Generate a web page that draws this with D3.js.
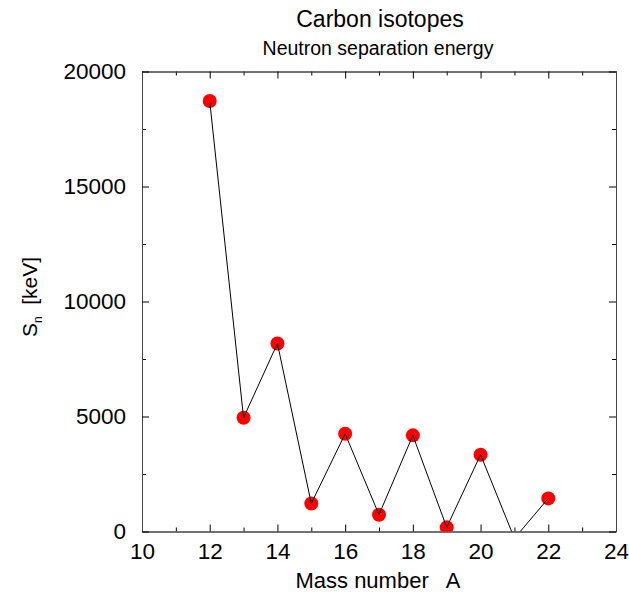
<html>
<head>
<meta charset="UTF-8">
<title>Carbon isotopes</title>
<script src="https://d3js.org/d3.v7.min.js"></script>
<style>
  body { margin: 0; background: #fff; }
  svg { display: block; font-family: "Liberation Sans", Arial, sans-serif; }
  .axis text { font-size: 22.5px; fill: #000; }
  .axis line { stroke: #000; }
  .axis path { stroke: #444; }
  .title { font-size: 23px; }
  .subtitle { font-size: 19.5px; }
  .label { font-size: 22px; }
</style>
</head>
<body>
<svg width="629" height="592"></svg>
<script>
// mass number A and neutron separation energy (keV)
var massNumbers = [12, 13, 14, 15, 16, 17, 18, 19, 20, 21, 22];
var snValues = [18720, 4946, 8176, 1218, 4250, 729, 4180, 180, 3340, -300, 1440];
var xTicks = [10, 12, 14, 16, 18, 20, 22, 24];
var yTicks = [0, 5000, 10000, 15000, 20000];

function draw() {
  var svg = d3.select("svg");
  var pLeft = 142, pRight = 616, pTop = 71.5, pBottom = 531.5;

  var x = d3.scaleLinear().domain([10, 24]).range([pLeft, pRight]);
  var y = d3.scaleLinear().domain([0, 20000]).range([pBottom, pTop]);

  var xMinor = d3.range(11, 24, 2);
  var yMinor = d3.range(2500, 20000, 5000);

  // minor ticks first
  svg.append("g").attr("class", "axis").attr("transform", "translate(0," + pBottom + ")")
    .call(d3.axisBottom(x).tickValues(xMinor).tickSize(-4).tickFormat("").tickSizeOuter(0));
  svg.append("g").attr("class", "axis").attr("transform", "translate(0," + pTop + ")")
    .call(d3.axisTop(x).tickValues(xMinor).tickSize(-4).tickFormat("").tickSizeOuter(0));
  svg.append("g").attr("class", "axis").attr("transform", "translate(" + pLeft + ",0)")
    .call(d3.axisLeft(y).tickValues(yMinor).tickSize(-4).tickFormat("").tickSizeOuter(0));
  svg.append("g").attr("class", "axis").attr("transform", "translate(" + pRight + ",0)")
    .call(d3.axisRight(y).tickValues(yMinor).tickSize(-4).tickFormat("").tickSizeOuter(0));

  // major ticks
  svg.append("g").attr("class", "axis").attr("transform", "translate(0," + pBottom + ")")
    .call(d3.axisBottom(x).tickValues(xTicks).tickSize(-7).tickPadding(12).tickSizeOuter(0));
  svg.append("g").attr("class", "axis").attr("transform", "translate(0," + pTop + ")")
    .call(d3.axisTop(x).tickValues(xTicks).tickSize(-7).tickFormat("").tickSizeOuter(0));
  svg.append("g").attr("class", "axis").attr("transform", "translate(" + pLeft + ",0)")
    .call(d3.axisLeft(y).tickValues(yTicks).tickSize(-7).tickPadding(16).tickFormat(d3.format("d")).tickSizeOuter(0));
  svg.append("g").attr("class", "axis").attr("transform", "translate(" + pRight + ",0)")
    .call(d3.axisRight(y).tickValues(yTicks).tickSize(-7).tickFormat("").tickSizeOuter(0));

  svg.selectAll(".axis").attr("font-family", null).attr("font-size", null);

  // clip to plot frame
  svg.append("clipPath").attr("id", "plot")
    .append("rect").attr("x", pLeft).attr("y", pTop)
    .attr("width", pRight - pLeft).attr("height", pBottom - pTop);

  var pts = massNumbers.map(function (a, i) { return [a, snValues[i]]; });
  var g = svg.append("g").attr("clip-path", "url(#plot)");

  g.selectAll("circle")
    .data(pts)
    .enter()
    .append("circle")
    .attr("cx", d => x(d[0]))
    .attr("cy", d => y(d[1]))
    .attr("r", 7)
    .attr("fill", "#ff0000");

  g.append("path")
    .datum(pts)
    .attr("fill", "none")
    .attr("stroke", "#000")
    .attr("stroke-width", 1)
    .attr("d", d3.line().x(d => x(d[0])).y(d => y(d[1])));

  // titles
  svg.append("text").attr("class", "title")
    .attr("x", 380).attr("y", 27).attr("text-anchor", "middle")
    .text("Carbon isotopes");
  svg.append("text").attr("class", "subtitle")
    .attr("x", 378).attr("y", 55).attr("text-anchor", "middle")
    .text("Neutron separation energy");

  svg.append("text").attr("class", "label")
    .attr("x", 378).attr("y", 588).attr("text-anchor", "middle")
    .style("white-space", "pre")
    .text("Mass number   A");

  var yl = svg.append("text").attr("class", "label")
    .attr("transform", "translate(37,297) rotate(-90)")
    .attr("text-anchor", "middle")
    .style("font-size", "21px").style("white-space", "pre");
  yl.append("tspan").text("S");
  yl.append("tspan").attr("dy", 5).style("font-size", "12px").text("n");
  yl.append("tspan").attr("dy", -5).text("  [keV]");
}
draw();
</script>
</body>
</html>
